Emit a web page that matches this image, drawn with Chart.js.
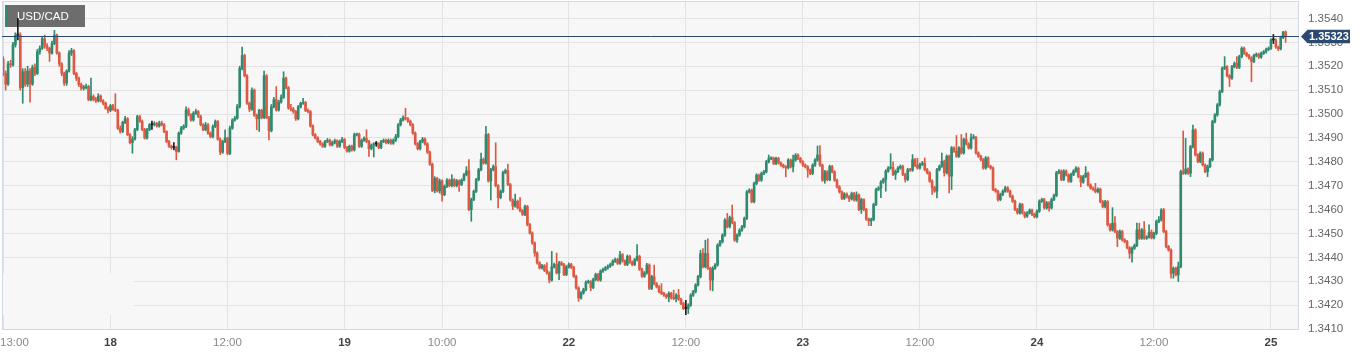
<!DOCTYPE html>
<html><head><meta charset="utf-8">
<script src="https://cdn.jsdelivr.net/npm/chart.js@4.4.0/dist/chart.umd.min.js"></script>
<style>html,body{margin:0;padding:0;background:#fff;}canvas{display:block;}</style>
</head><body>
<canvas id="c" width="1370" height="356"></canvas>
<script>
// ---- data (prices in pips above BASE: price = BASE + v/10000), 15-minute candles ----
const SYMBOL = 'USD/CAD';
const BASE = 1.34;
const firstOpen = 123;
const closes = [
117,112.5,121,120.5,129,133,133,111,117.7,112.5,
118,112.5,119.5,117,126,127.5,131.5,128.5,127.5,125.5,
129.5,133,125.5,121,117,113,118,125.5,126.5,117,
115,112.3,110.8,111,111.5,106,107.3,106,105.5,107.5,
105.5,104.5,102.4,101.5,103.5,102,101.5,94,92.7,96.5,
98,91.3,88,89.5,93.5,98.9,97,93.5,90,93.4,
95.5,95.5,96,95,96.2,95.5,92.7,88.5,86.5,86,
86,84.3,92,94.1,94.8,101.7,99.7,97.5,100.3,101,
99,95.5,93.4,95.5,92,90.6,94.8,96.9,89.5,84,
88.5,89.9,83.5,94.1,97.5,98.2,103.1,119.1,124.5,116,
104.5,102,110,99.5,98,101.5,98.5,116,98.5,93,
103,106,101.7,105,107,115,111,102.5,102,101,
98,103,104.5,104.8,101.5,101,95,91.3,90,88.5,
87.5,86.5,88.5,89,87.1,88,88.8,86.5,88.5,89.4,
86,84.5,86.5,85,91.3,91.5,86.5,89,89.8,88.5,
85.5,87,87.5,87.5,86,88.5,89,88,89,87.8,
89,90.5,95.5,97.5,98.5,98,97,95.5,92,87.5,
85.5,88.5,89.5,87.5,84,79,68,73,67.8,72,
66.2,69.7,72.3,70,72.5,70,72,70.5,72.3,74.6,
76.2,60,64.2,67.6,72.5,76.7,81,79.5,91.4,72,
76.7,78,70,65,67.6,75.5,76.3,70.5,64,61.5,
63.5,60.8,59.5,58,61.3,53.7,50.2,46,41.8,37.7,
35.6,36.5,34.5,33.5,30.5,36,37,33.5,37.7,37,
32.8,36,37,35.8,32.1,27.2,23,25.1,26.5,29.6,
29.8,27.4,30.7,32.8,30.5,34.2,34.9,35.6,36.3,37,
38.4,39.1,37.5,41.1,38.5,37,40.4,38,37,39,
40.4,35,32.1,33.5,36.8,27,31.9,29,27.7,25.6,
24.9,24.2,23.5,24.9,23,22.8,24.2,22.5,20.7,18.6,
18.6,20,24.2,25.6,28.4,31.9,41.6,36.1,41.6,35.4,
30.5,35.5,36.8,45.1,46.5,49.3,55.6,52.8,56.7,54.5,
47.2,49.3,51.4,52.8,56.3,67.4,68.1,63.3,70.9,74.4,
72.3,75.1,75.8,80,81.4,81.5,79.3,81.4,79.5,78.6,
77.9,77.5,80.7,77.9,80.7,82.8,81.4,80,78.6,77.9,
76.5,75.1,78.6,80.7,82.8,78.6,72.3,75.8,72.5,78,
75.8,72.3,69.5,67.4,64.7,66.5,65.4,64.5,66.7,64,
66.1,60,64.2,60,56,55.3,55.8,62.1,68.4,69,
71.5,72.6,76.1,77.4,77.6,74.7,76,77.4,78.1,74.7,
72.6,76.7,76.5,80.9,78.5,77.4,78.9,79.5,76.7,75.4,
71.9,69.2,67.7,76.7,78.1,80.2,75.4,82.3,74,85.8,
84.4,82.3,85.8,83.7,89.3,87.5,85.8,90,90.2,83.7,
82.3,80.9,77.4,81.6,78.1,77.4,68.4,67.7,64.2,66.3,
67.7,69.1,67.7,65.6,63.5,60,58.6,62.1,58.6,57.2,
58.6,59.7,58,57,59.3,63.5,64.2,60.7,62.8,60.7,
64.2,65.9,75.4,76.1,72.6,76.1,74.5,71.9,74.7,76.1,
77.3,73.8,71.5,73.8,75.2,70.3,69,68.5,67.5,68.5,
63.3,61.2,63.3,53.6,51.5,54.3,50.8,48,50.8,47.3,
46.6,44,41.7,43.8,45,51.5,48,51.5,48,48.5,
50.5,48.2,50,55,55.7,59.8,50.8,44.5,43.1,33.3,
35.4,32.7,36.1,75.9,75.2,77,75.2,86.3,93.3,82.9,
80.1,83.6,78.7,75.9,78,80.8,96.8,99.6,103.8,109.4,
119.1,119.8,116,115,119.8,121.2,119.5,124,127.5,125.4,
124.5,123.5,122,124.5,125,123.8,125.4,126,127,127.5,
131,131,128,127.3,132,134.3,132.3
];
const highs = [
124,118,122,122.5,130,134,140,134,119,119,
120,119,120.5,121,127,128.5,132.5,133,129.5,128,
130.5,135,133.5,126,121.5,117.5,118.5,126.5,127.5,127,
117.5,115.5,113,112,112.5,112,115,108,107,108.5,
108,106,105,103,104,104,108.5,102,95,97,
99,98.5,91.8,90.5,94,99.5,99.5,97.5,94,94,
96,97,96.8,96.5,97,97,96,93,89,87,
88,86.5,92.5,94.8,95.5,103,102.5,100.2,101,102,
101.5,99.5,96,96.5,96,92.5,95.5,97.5,97.3,90,
89,93.4,90.3,95,98,99,104,120,128,125,
116.5,105,111,110.5,100,102,102,118,116.5,99,
104,107,111.5,105.8,108,117.7,115.5,111.5,104,102.8,
101.5,103.6,105,106.6,105.3,102.2,101.5,95.5,91.8,90.5,
89,88,89,89.8,89.5,88.7,89.5,89.2,89.1,90.2,
89.8,86.5,87,87,92,92,92,89.5,90.5,93.4,
89,87.5,88,88.5,88,89,89.6,89.5,89.6,89.5,
89.6,91.5,96,98.2,99.2,102.4,98.5,97.5,96,92.5,
88,89,90.2,90,88,84.5,79.5,73.8,73.5,72.8,
72.5,70.3,73,72.8,74.6,73,72.6,72.5,72.9,75.2,
78,80.9,64.8,68.2,73.1,77.3,83.6,81.6,94.8,91.9,
77.3,78.7,88,70.5,68.2,76.1,77,79,71,64.5,
66.5,64,65,60,61.9,61.8,54.2,50.7,46.5,42.3,
38.2,37.1,37,37.7,34,42.5,37.6,41.8,38.3,38.3,
37.5,36.6,37.7,37.5,36.3,32.6,27.7,25.7,27.1,30.2,
30.5,30.3,31.3,33.4,33.3,34.8,35.5,36.2,36.9,37.6,
39,39.7,39.6,42.5,41.6,39,41,40.9,38.5,39.6,
45.3,40.9,35.5,34.1,37.5,37.3,32.5,36.8,29.5,28.2,
29,25.4,24.7,25.6,25.4,26.3,24.8,26.6,23,21.2,
22,20.6,24.8,26.2,29,32.5,43,43.7,47.2,47.8,
35.9,36.1,37.4,45.7,47.1,49.9,56.2,58.4,57.3,61.9,
55,49.9,52,53.4,56.9,68,68.7,68.6,71.5,75,
74.9,75.7,76.4,80.6,82.8,82.1,82,82,81.9,80,
79.1,78.4,81.3,81.2,82.8,83.4,83.3,81.9,80.5,79.1,
78.4,77,79.2,81.3,86.6,86.8,79.1,76.4,76.3,78.6,
78.5,76.3,72.8,70,67.9,67.1,67,65.9,67.3,67.2,
67.4,66.6,64.8,64.5,60.5,56.5,56.4,62.7,69,69.6,
72.1,73.2,76.7,78,83.4,80,76.6,78,78.7,78.6,
75.2,77.3,77.3,83,81.4,81.5,79.5,80.1,81.6,77.2,
75.9,72.4,69.7,77.3,78.7,83.7,80.7,82.9,82.8,86.4,
86.3,91,86.4,91.4,89.9,92,88,91.7,91.4,90.7,
84.2,82.8,81.4,82.2,82.1,78.6,77.9,68.9,68.2,66.9,
68.3,69.7,69.6,68.2,66.1,64,60.5,62.7,62.6,59.1,
59.2,60.3,60.2,58.5,59.9,64.1,64.8,64.7,63.4,63.3,
64.8,66.5,76,76.7,76.6,76.7,76.6,75,75.3,76.7,
78,77.8,74.3,74.4,78,75.7,70.8,69.5,71,69.1,
69,63.8,63.9,63.8,54.1,60.8,57.1,51.3,51.5,51.3,
47.8,47.1,44.5,44.4,45.6,54.3,54.3,52.1,55,49.1,
53.6,51.5,50.6,55.6,57.1,60.4,60.5,51.3,45,43.6,
36,35.9,38,76.5,92.9,89.8,77.5,86.9,95.4,93.8,
83.4,84.2,84.1,79.2,78.6,81.4,97.4,100.2,104.4,110,
119.7,124,120.3,116.5,120.4,121.8,124,124.6,128.1,128,
125.9,125,124,125.1,125.6,125.5,126,126.6,127.6,128.1,
131.6,133.3,131.5,128.5,132.6,134.6,134.8
];
const lows = [
116,110,112,119.5,120,128,131,110,104.5,111.5,
111.5,105,112,116,116.5,125,127,127.5,126.5,122,
125,129,125,120,116,112,112,117.5,124.5,116.5,
114,111.5,110,110,110.5,105.5,105.5,105.5,104.8,105,
105,103.8,102,100.5,101,101.5,101,93.5,92,92.2,
96,91,87.5,83.6,89,93,96.5,93,89.5,89.5,
93,93.5,95,94.5,94.5,95,92.2,88,86,85.3,
85,80.8,84,91.5,93.5,94.3,99.2,97,97,99.8,
98.5,95,93,93,91.5,90,90,94.3,89,83,
83.5,88,82.9,83,93.6,97,97.8,102.5,118.5,115.5,
104,101,101.5,99,93.4,92.7,98,98,98,89.2,
92.5,102.5,101.2,101.2,104.5,106.5,110.5,102,101.3,100.3,
97.3,97.5,102.5,104,101,100.5,94.5,90.8,89.5,88,
87,86,86,88,86.6,86.6,87.5,86,86,88,
85.5,84,84,84.5,84.5,90.8,86,86,88.5,88,
82.2,85,82,86.5,85.5,85.5,88,87.5,87.5,87.3,
87.3,88.5,90,95,97,97.5,96.5,95,91.5,87,
85,85,88,87,83.5,78.5,67.5,67,67.3,66.9,
63.5,65.8,69.2,69.5,69.5,69.5,69.5,67.6,70,72,
74.1,59.5,55.1,63.7,67.1,72,76.2,79,79,71.5,
64,76.2,69.5,60.7,64.5,67.1,75,70,63.5,60,
61,60.3,59,57.5,57.5,53.2,49.7,45.5,40.4,37.2,
35.1,35.1,34,33,29.3,30,35.5,33,30.7,36.5,
32.3,32.3,35.5,35.3,31.6,26.7,21.6,22.5,24.6,26,
29.1,26,26.9,30.2,30,30,33.7,34.4,35.1,35.8,
36.5,37.9,37,37,38,36.5,36.5,37.5,36.5,36.5,
38.5,34.5,31.6,31.6,33,26.5,26.5,28.5,27.2,25.1,
24.4,23.7,22.8,21.4,22.5,22.3,21.4,22,20.2,18.1,
16,16.5,19.5,23.7,25.1,27.9,31.4,35.6,35.6,34.9,
26.3,26,35,36.3,44.6,46,48.8,52.3,52.3,54,
46.7,46.3,48.8,50.9,52.3,55.8,66.9,62.8,62.8,70.4,
71.8,71.8,74.6,75.3,79.5,80.9,78.8,78.8,79,78.1,
77.4,73.7,77,77.4,75.8,80.2,80.9,79.5,78.1,77.4,
73.5,74.6,74.6,78.1,80.2,78.1,71.8,71,72,72,
75.3,71.8,69,66.9,64.2,64.2,64.9,63.3,64,63.5,
63.5,59.5,58.4,59.5,55.5,53.3,53.3,55.3,61.6,67.9,
65,71,67.7,75.6,76.9,74.2,72.6,75.5,76.9,74.2,
71.5,72.1,76,76,78,76.9,76.9,78.4,76.2,74.9,
71.4,66.3,67.2,64.9,76.2,77.6,74,74.9,67,68.4,
83.9,81.8,81.8,83.2,83.2,87,85.3,85.3,89.5,83.2,
81.8,80.4,76.9,76.9,77.6,76.9,67.9,67.2,63.5,63.7,
65.8,67.2,67.2,65.1,63,59.5,58.1,58.1,58.1,56.5,
56.7,58.1,57.5,56.5,56.5,58.8,63,60.2,60.2,59.3,
60.2,63.7,65.4,74.9,72.1,72.1,74,71.4,71.4,74.2,
75.6,73.3,69.6,71,73.3,69.8,68.5,68,67,67,
62.8,60.7,60.7,53.1,51,51,50.3,44.5,47.5,46.8,
46.1,43.5,39.6,38,43.3,44.5,47.5,47.5,47.5,47.5,
48,47.7,47.7,49.5,54.5,55.2,50.3,44,42.6,31.3,
31.3,32.2,29.9,35.6,74.7,74.7,74.7,73.8,85.8,82.4,
79.6,79.6,78.2,75.4,73.8,77.5,80.3,96.3,99.1,103.3,
108.9,118.6,115.5,111.5,114.5,119.3,119,119,123.5,124.9,
124,123,113.5,121.5,124,123.3,123.3,124.9,125.5,126.5,
127,129.5,127.5,126.5,126.8,131.5,130
];
const slotCount = 532; // 15-minute slots on the axis (last few empty)
const xTickIndex  = [0, 44, 92, 140, 180, 232, 280, 328, 376, 424, 472, 520];
const xTickLabels = ['13:00','18','12:00','19','10:00','22','12:00','23','12:00','24','12:00','25'];
const xTickIsDay  = [false,true,false,true,false,true,false,true,false,true,false,true];
const yTicks = [1.3410,1.3420,1.3430,1.3440,1.3450,1.3460,1.3470,1.3480,1.3490,1.3500,1.3510,1.3520,1.3530,1.3540];
const lastPrice = 1.35323;

// ---- build candles ----
const UP = '#2f8a70', DOWN = '#dc5a43', DOJI = '#1e1e1e';
const toPrice = v => BASE + v / 10000;
const bodies = [], wicks = [], colors = [];
closes.forEach((c, i) => {
  const o = i === 0 ? firstOpen : closes[i - 1];
  bodies.push({ x: i, y: [toPrice(Math.min(o, c)), toPrice(Math.max(o, c))] });
  wicks.push({ x: i, y: [toPrice(lows[i]), toPrice(highs[i])] });
  colors.push(c > o ? UP : (c < o ? DOWN : DOJI));
});

const FONT = '"Liberation Sans", Arial, Helvetica, sans-serif';

const deco = {
  id: 'deco',
  beforeDraw(chart) {
    const { ctx, chartArea: a } = chart;
    ctx.save();
    ctx.fillStyle = '#ffffff';
    ctx.fillRect(0, 0, chart.width, chart.height);
    ctx.fillStyle = '#f7f7f7';
    ctx.fillRect(a.left, a.top, a.right - a.left, a.bottom - a.top);
    ctx.restore();
  },
  beforeDatasetsDraw(chart) {
    const { ctx, chartArea: a } = chart;
    ctx.save();
    ctx.fillStyle = '#f7f7f7';
    ctx.fillRect(a.left + 1, 273, 131, 42);
    ctx.fillStyle = 'rgba(98,98,98,0.93)';
    ctx.fillRect(5, 5, 80, 22);
    ctx.fillStyle = UP;
    ctx.fillRect(5, 5, 2.5, 22);
    ctx.fillStyle = '#ffffff';
    ctx.font = '11.5px ' + FONT;
    ctx.textBaseline = 'middle';
    ctx.textAlign = 'left';
    ctx.fillText(SYMBOL, 17, 16.5);
    ctx.restore();
  },
  afterDraw(chart) {
    const { ctx, chartArea: a } = chart;
    const xs = chart.scales.x, ys = chart.scales.y;
    ctx.save();
    ctx.strokeStyle = '#d2d8e6';
    ctx.lineWidth = 1;
    ctx.strokeRect(a.left + 0.5, a.top + 0.5, a.right - a.left - 1, a.bottom - a.top - 1);
    const yp = ys.getPixelForValue(lastPrice);
    const yl = Math.round(yp) - 0.5;
    ctx.strokeStyle = '#2c4a70';
    ctx.beginPath();
    ctx.moveTo(a.left, yl); ctx.lineTo(a.right, yl);
    ctx.stroke();
    ctx.fillStyle = '#2c4a70';
    ctx.beginPath();
    ctx.moveTo(1301, yl);
    ctx.lineTo(1307.5, yl - 6.8);
    ctx.lineTo(1350, yl - 6.8);
    ctx.lineTo(1350, yl + 6.8);
    ctx.lineTo(1307.5, yl + 6.8);
    ctx.closePath();
    ctx.fill();
    ctx.fillStyle = '#ffffff';
    ctx.font = 'bold 11px ' + FONT;
    ctx.textBaseline = 'middle';
    ctx.textAlign = 'left';
    ctx.fillText(lastPrice.toFixed(5), 1309, yl + 0.5);
    xTickIndex.forEach((v, k) => {
      const px = xs.getPixelForValue(v);
      ctx.font = (xTickIsDay[k] ? 'bold ' : '') + '11.5px ' + FONT;
      ctx.fillStyle = xTickIsDay[k] ? '#444444' : '#8a8a8a';
      ctx.textAlign = k === 0 ? 'left' : 'center';
      ctx.fillText(xTickLabels[k], k === 0 ? 0 : px, 342.5);
    });
    ctx.restore();
  }
};

new Chart(document.getElementById('c'), {
  type: 'bar',
  data: {
    datasets: [
      { label: 'body', data: bodies, backgroundColor: colors, barThickness: 2, minBarLength: 1, grouped: false, borderWidth: 0 },
      { label: 'wick', data: wicks, backgroundColor: colors, barThickness: 1, minBarLength: 1, grouped: false, borderWidth: 0 }
    ]
  },
  options: {
    responsive: false,
    animation: false,
    devicePixelRatio: 1,
    layout: { padding: { left: 2, top: 1, right: 0, bottom: 0 } },
    plugins: { legend: { display: false }, tooltip: { enabled: false } },
    scales: {
      x: {
        type: 'linear', min: -0.5, max: slotCount - 0.5, offset: false,
        grid: { color: '#e3e3e3', drawTicks: false, offset: false },
        border: { display: false },
        ticks: { display: false },
        afterBuildTicks: s => { s.ticks = xTickIndex.map(v => ({ value: v })); },
        afterFit: s => { s.height = 26; s.paddingLeft = 0; s.paddingRight = 0; }
      },
      y: {
        type: 'linear', position: 'right', min: 1.34096, max: 1.35473,
        grid: { color: '#e3e3e3', drawTicks: false, offset: false },
        border: { display: false },
        ticks: { padding: 9, color: '#666666', font: { family: FONT, size: 11.5 }, callback: v => Number(v).toFixed(4) },
        afterBuildTicks: s => { s.ticks = yTicks.map(v => ({ value: v })); },
        afterFit: s => { s.width = 71; s.paddingTop = 0; s.paddingBottom = 0; }
      }
    }
  },
  plugins: [deco]
});
</script>
</body></html>
